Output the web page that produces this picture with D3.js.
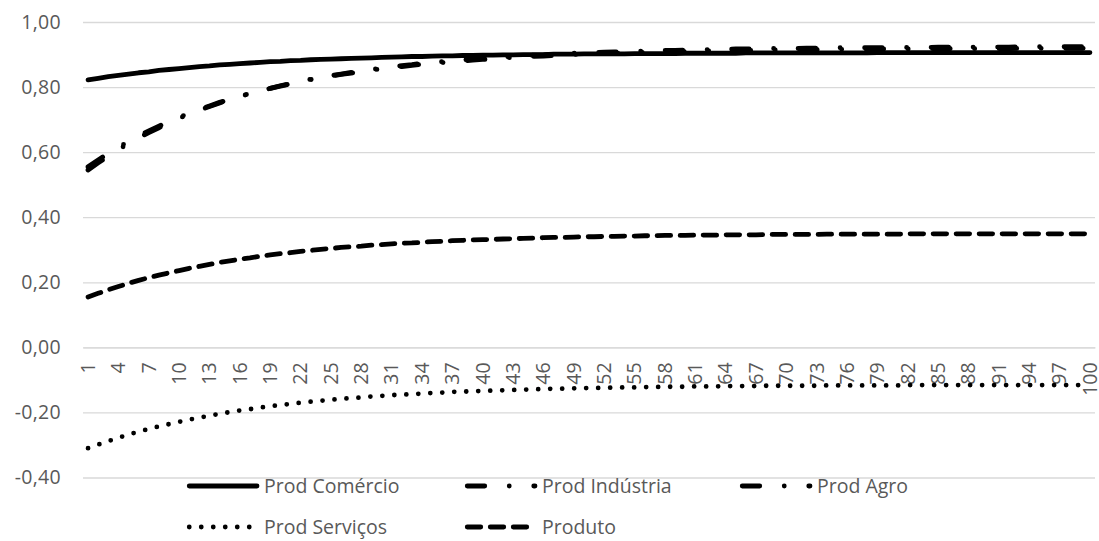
<!DOCTYPE html>
<html>
<head>
<meta charset="utf-8">
<script src="https://cdn.jsdelivr.net/npm/d3@7/dist/d3.min.js"></script>
<style>
  html, body { margin: 0; padding: 0; background: #ffffff; }
  svg { display: block; }
</style>
</head>
<body>
<svg id="chart" width="1099" height="541"></svg>
<script>
// Period index along the horizontal axis
const categories = Array.from({ length: 100 }, (_, i) => i + 1);

// Labels shown on the horizontal axis
const xTickLabels = [1, 4, 7, 10, 13, 16, 19, 22, 25, 28, 31, 34, 37, 40, 43, 46, 49, 52, 55,
  58, 61, 64, 67, 70, 73, 76, 79, 82, 85, 88, 91, 94, 97, 100];

// Vertical axis ticks
const yTicks = [1.0, 0.8, 0.6, 0.4, 0.2, 0.0, -0.2, -0.4];

const prodComercio = [
  0.822, 0.827, 0.832, 0.836, 0.840, 0.844, 0.847, 0.851, 0.854, 0.857,
  0.860, 0.863, 0.865, 0.868, 0.870, 0.872, 0.874, 0.876, 0.878, 0.879,
  0.881, 0.882, 0.884, 0.885, 0.886, 0.887, 0.888, 0.889, 0.890, 0.891,
  0.892, 0.893, 0.894, 0.894, 0.895, 0.896, 0.896, 0.897, 0.897, 0.898,
  0.898, 0.899, 0.899, 0.900, 0.900, 0.900, 0.901, 0.901, 0.901, 0.902,
  0.902, 0.902, 0.902, 0.902, 0.903, 0.903, 0.903, 0.903, 0.903, 0.904,
  0.904, 0.904, 0.904, 0.904, 0.904, 0.905, 0.905, 0.905, 0.905, 0.905,
  0.905, 0.905, 0.905, 0.905, 0.905, 0.905, 0.905, 0.905, 0.906, 0.906,
  0.906, 0.906, 0.906, 0.906, 0.906, 0.906, 0.906, 0.906, 0.906, 0.906,
  0.906, 0.906, 0.906, 0.906, 0.906, 0.906, 0.906, 0.906, 0.906, 0.906
];

const prodIndustria = [
  0.545, 0.567, 0.588, 0.608, 0.626, 0.644, 0.660, 0.675, 0.690, 0.704,
  0.717, 0.729, 0.740, 0.751, 0.761, 0.771, 0.780, 0.788, 0.796, 0.804,
  0.811, 0.817, 0.824, 0.829, 0.835, 0.840, 0.845, 0.850, 0.854, 0.858,
  0.862, 0.866, 0.869, 0.873, 0.876, 0.878, 0.881, 0.884, 0.886, 0.888,
  0.891, 0.893, 0.894, 0.896, 0.898, 0.899, 0.901, 0.902, 0.904, 0.905,
  0.906, 0.907, 0.908, 0.909, 0.910, 0.911, 0.912, 0.913, 0.913, 0.914,
  0.915, 0.915, 0.916, 0.916, 0.917, 0.917, 0.918, 0.918, 0.919, 0.919,
  0.919, 0.920, 0.920, 0.920, 0.921, 0.921, 0.921, 0.921, 0.921, 0.922,
  0.922, 0.922, 0.922, 0.922, 0.923, 0.923, 0.923, 0.923, 0.923, 0.923,
  0.923, 0.923, 0.924, 0.924, 0.924, 0.924, 0.924, 0.924, 0.924, 0.924
];

const prodAgro = [
  0.555, 0.576, 0.596, 0.615, 0.633, 0.650, 0.665, 0.680, 0.694, 0.707,
  0.720, 0.731, 0.742, 0.753, 0.762, 0.772, 0.780, 0.788, 0.796, 0.803,
  0.810, 0.816, 0.823, 0.828, 0.834, 0.839, 0.843, 0.848, 0.852, 0.856,
  0.860, 0.863, 0.867, 0.870, 0.873, 0.875, 0.878, 0.880, 0.883, 0.885,
  0.887, 0.889, 0.891, 0.892, 0.894, 0.895, 0.897, 0.898, 0.900, 0.901,
  0.902, 0.903, 0.904, 0.905, 0.906, 0.907, 0.907, 0.908, 0.909, 0.909,
  0.910, 0.911, 0.911, 0.912, 0.912, 0.913, 0.913, 0.913, 0.914, 0.914,
  0.915, 0.915, 0.915, 0.915, 0.916, 0.916, 0.916, 0.916, 0.917, 0.917,
  0.917, 0.917, 0.917, 0.918, 0.918, 0.918, 0.918, 0.918, 0.918, 0.918,
  0.918, 0.918, 0.919, 0.919, 0.919, 0.919, 0.919, 0.919, 0.919, 0.919
];

const prodServicos = [
  -0.310, -0.299, -0.288, -0.278, -0.268, -0.259, -0.251, -0.243, -0.236, -0.229,
  -0.222, -0.216, -0.210, -0.204, -0.199, -0.194, -0.190, -0.185, -0.181, -0.177,
  -0.174, -0.170, -0.167, -0.164, -0.161, -0.158, -0.156, -0.154, -0.151, -0.149,
  -0.147, -0.145, -0.144, -0.142, -0.140, -0.139, -0.137, -0.136, -0.135, -0.134,
  -0.133, -0.132, -0.131, -0.130, -0.129, -0.128, -0.127, -0.127, -0.126, -0.125,
  -0.125, -0.124, -0.124, -0.123, -0.123, -0.122, -0.122, -0.121, -0.121, -0.121,
  -0.120, -0.120, -0.120, -0.119, -0.119, -0.119, -0.119, -0.118, -0.118, -0.118,
  -0.118, -0.118, -0.118, -0.117, -0.117, -0.117, -0.117, -0.117, -0.117, -0.117,
  -0.117, -0.116, -0.116, -0.116, -0.116, -0.116, -0.116, -0.116, -0.116, -0.116,
  -0.116, -0.116, -0.116, -0.116, -0.116, -0.116, -0.116, -0.116, -0.116, -0.116
];

const produto = [
  0.155, 0.166, 0.177, 0.187, 0.197, 0.206, 0.214, 0.222, 0.229, 0.236,
  0.243, 0.249, 0.255, 0.261, 0.266, 0.271, 0.275, 0.280, 0.284, 0.288,
  0.291, 0.295, 0.298, 0.301, 0.304, 0.307, 0.309, 0.311, 0.314, 0.316,
  0.318, 0.320, 0.321, 0.323, 0.325, 0.326, 0.328, 0.329, 0.330, 0.331,
  0.332, 0.333, 0.334, 0.335, 0.336, 0.337, 0.338, 0.338, 0.339, 0.340,
  0.340, 0.341, 0.341, 0.342, 0.342, 0.343, 0.343, 0.344, 0.344, 0.344,
  0.345, 0.345, 0.345, 0.346, 0.346, 0.346, 0.346, 0.347, 0.347, 0.347,
  0.347, 0.347, 0.347, 0.348, 0.348, 0.348, 0.348, 0.348, 0.348, 0.348,
  0.348, 0.349, 0.349, 0.349, 0.349, 0.349, 0.349, 0.349, 0.349, 0.349,
  0.349, 0.349, 0.349, 0.349, 0.349, 0.349, 0.349, 0.349, 0.349, 0.349
];

const seriesNames = ["Prod Comércio", "Prod Indústria", "Prod Agro", "Prod Serviços", "Produto"];

// Line styles per series (round caps turn zero-length dashes into dots)
const STROKE_W = 4.8;
const dashStyles = {
  "Prod Comércio": null,
  "Prod Indústria": "17.5 24.5 0 24.5",
  "Prod Agro": "17.5 24.5 0 24.5",
  "Prod Serviços": "0 12",
  "Produto": "13.5 9.5"
};

const series = [
  { name: seriesNames[0], values: prodComercio },
  { name: seriesNames[1], values: prodIndustria },
  { name: seriesNames[2], values: prodAgro },
  { name: seriesNames[3], values: prodServicos },
  { name: seriesNames[4], values: produto }
];

const FONT = "'Open Sans', 'Noto Sans', sans-serif";
const FONT_SIZE = "19.5px";
const TEXT_COLOR = "#595959";
const GRID_COLOR = "#d9d9d9";

const svg = d3.select("#chart");

const plot = { left: 83, right: 1095, top: 22, bottom: 477.5 };

const x = d3.scaleBand()
  .domain(categories)
  .range([plot.left, plot.right])
  .padding(0);

const y = d3.scaleLinear()
  .domain([-0.4, 1.0])
  .range([plot.bottom, plot.top]);

const locale = d3.formatLocale({ decimal: ",", thousands: ".", grouping: [3], currency: ["R$", ""], minus: "-" });
const fmt = locale.format(".2f");

// Horizontal gridlines and value labels
const yAxis = svg.append("g")
  .attr("transform", `translate(${plot.left},0)`)
  .call(d3.axisLeft(y)
    .tickValues(yTicks)
    .tickFormat(fmt)
    .tickSizeInner(-(plot.right - plot.left))
    .tickSizeOuter(0)
    .tickPadding(22));
yAxis.select(".domain").remove();
yAxis.selectAll(".tick line")
  .attr("stroke", GRID_COLOR)
  .attr("stroke-width", 1.3);
yAxis.selectAll(".tick text")
  .attr("fill", TEXT_COLOR)
  .style("font-family", FONT)
  .style("font-size", FONT_SIZE)
  .style("letter-spacing", "0.3px");

// Category axis through zero, labels rotated
const xAxis = svg.append("g")
  .attr("transform", `translate(0,${y(0)})`)
  .call(d3.axisBottom(x)
    .tickValues(xTickLabels)
    .tickSize(0));
xAxis.select(".domain")
  .attr("stroke", GRID_COLOR)
  .attr("stroke-width", 1.3);
xAxis.selectAll(".tick text")
  .attr("fill", TEXT_COLOR)
  .attr("transform", "rotate(-90)")
  .attr("x", -15)
  .attr("y", 0)
  .attr("dy", "0.35em")
  .style("text-anchor", "end")
  .style("font-family", FONT)
  .style("font-size", FONT_SIZE);

// Series lines
const line = d3.line()
  .x((d, i) => x(categories[i]) + x.bandwidth() / 2)
  .y(d => y(d));

svg.append("g")
  .selectAll("path")
  .data(series)
  .join("path")
  .attr("d", d => line(d.values))
  .attr("fill", "none")
  .attr("stroke", "#000")
  .attr("stroke-width", STROKE_W)
  .attr("stroke-linecap", "round")
  .attr("stroke-linejoin", "round")
  .attr("stroke-dasharray", d => dashStyles[d.name]);

// Legend
const legendCols = [187, 465, 740];
const legendRows = [486, 527];
const legend = svg.append("g");
series.forEach((s, i) => {
  const cx = legendCols[i % 3];
  const cy = legendRows[Math.floor(i / 3)];
  const g = legend.append("g");
  g.append("path")
    .attr("d", `M${cx + 2.25},${cy}H${cx + 70}`)
    .attr("fill", "none")
    .attr("stroke", "#000")
    .attr("stroke-width", STROKE_W)
    .attr("stroke-linecap", "round")
    .attr("stroke-dasharray", dashStyles[s.name]);
  g.append("text")
    .attr("x", cx + 77)
    .attr("y", cy)
    .attr("dy", "0.35em")
    .attr("fill", TEXT_COLOR)
    .style("font-family", FONT)
    .style("font-size", FONT_SIZE)
    .text(s.name);
});
</script>
</body>
</html>
